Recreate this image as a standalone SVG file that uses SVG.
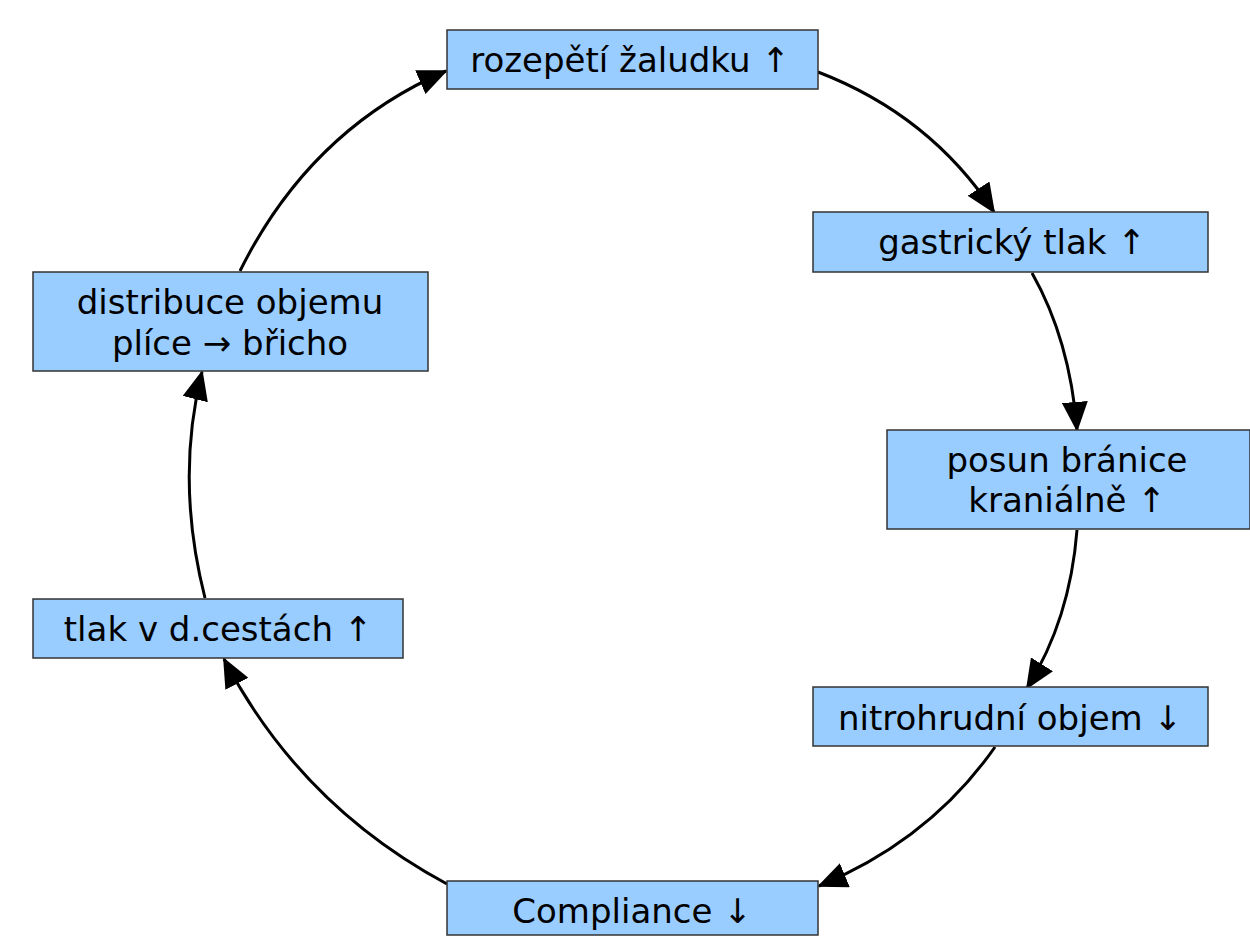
<svg xmlns="http://www.w3.org/2000/svg" width="1250" height="951" viewBox="0 0 1250 951">
<defs>
<style>
.box{fill:#99CCFF;stroke:#333;stroke-width:1.5}
.t{font-family:"DejaVu Sans","Verdana",sans-serif;font-size:34px;fill:#000;text-anchor:middle}
.c{fill:none;stroke:#000;stroke-width:3;marker-end:url(#ah)}
</style>
<marker id="ah" markerUnits="userSpaceOnUse" markerWidth="30" markerHeight="26" viewBox="0 0 30 26" refX="28" refY="13" orient="auto">
<path d="M0,0 L30,13 L0,26 z" fill="#000"/>
</marker>
</defs>
<rect width="1250" height="951" fill="#fff"/>
<g id="connectors">
<path class="c" d="M447,884 Q300,805 224,659"/>
<path class="c" d="M205,598 Q175,480 202,372"/>
<path class="c" d="M240,271 Q310,130 446,71"/>
<path class="c" d="M818,72 Q930,115 994,212"/>
<path class="c" d="M1032,273 Q1070,340 1077,430"/>
<path class="c" d="M1077,530 Q1070,620 1027,688"/>
<path class="c" d="M995,747 Q930,840 819,886"/>
</g>
<g id="n1"><rect class="box" x="447" y="30" width="371" height="59"/><text class="t" x="630" y="72">rozepětí žaludku ↑</text></g>
<g id="n2"><rect class="box" x="813" y="212" width="395" height="60"/><text class="t" x="1012" y="254">gastrický tlak ↑</text></g>
<g id="n3"><rect class="box" x="887" y="430" width="363" height="99"/><text class="t" x="1067" y="472">posun bránice</text><text class="t" x="1067" y="512"> kraniálně ↑</text></g>
<g id="n4"><rect class="box" x="813" y="687" width="395" height="59"/><text class="t" x="1010" y="730">nitrohrudní objem ↓</text></g>
<g id="n5"><rect class="box" x="447" y="881" width="371" height="54"/><text class="t" x="632" y="923">Compliance ↓</text></g>
<g id="n6"><rect class="box" x="33" y="599" width="370" height="59"/><text class="t" x="218" y="641">tlak v d.cestách ↑</text></g>
<g id="n7"><rect class="box" x="33" y="272" width="395" height="99"/><text class="t" x="230" y="314">distribuce objemu</text><text class="t" x="230" y="355">plíce → břicho</text></g>
</svg>
